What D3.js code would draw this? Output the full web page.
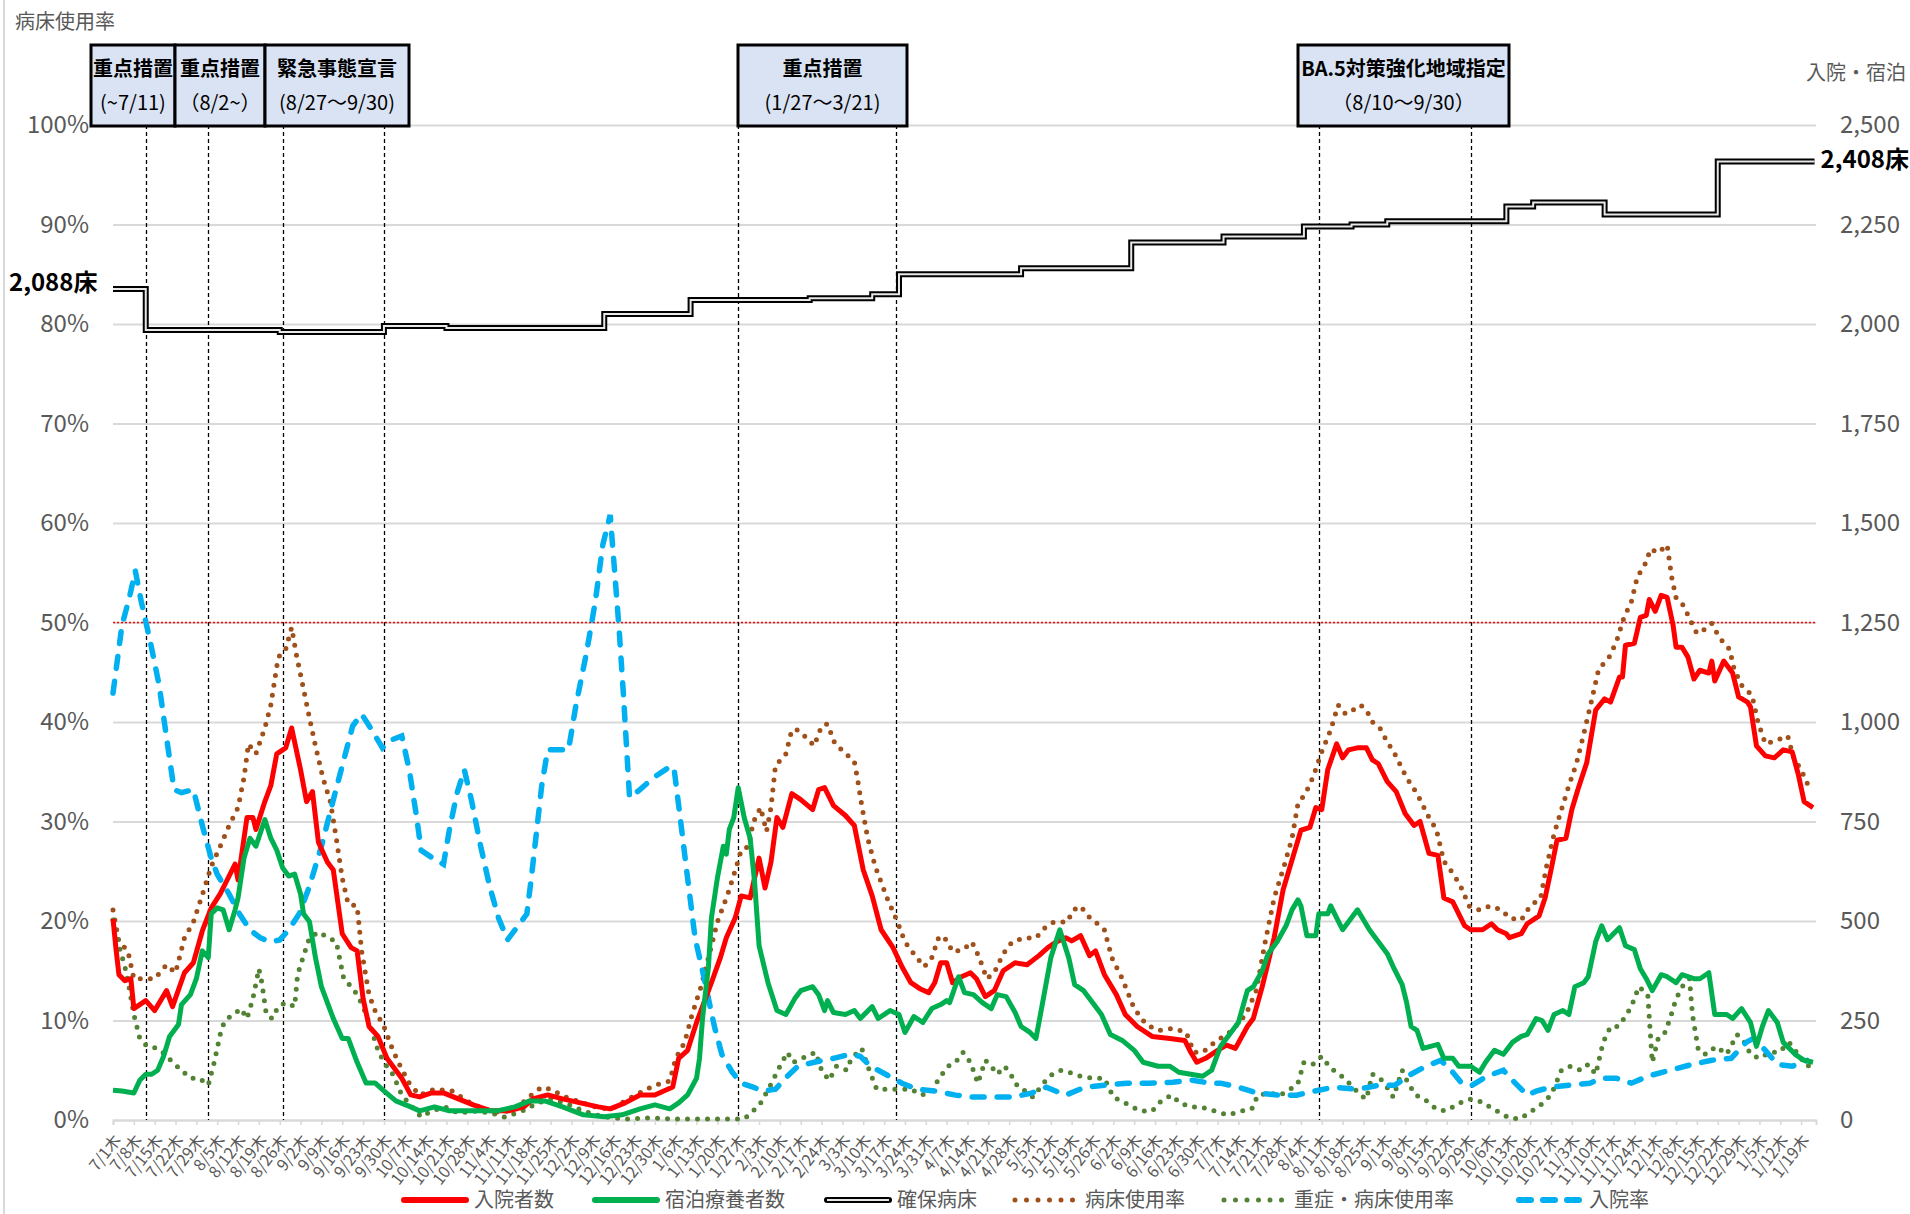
<!DOCTYPE html>
<html>
<head>
<meta charset="utf-8">
<script src="https://cdn.jsdelivr.net/npm/d3@7"></script>
<style>
body { margin: 0; background: #fff; }
svg { display: block; font-family: "Noto Sans CJK JP", "Noto Sans", sans-serif; }
</style>
</head>
<body>
<svg id="chart" width="1910" height="1214"></svg>
<script>
// day offsets are counted from 2021-07-01
var startDate = new Date(2021, 6, 1);

// 入院者数 (right axis, people)
var admitted = [[0,505],[1,430],[2,365],[4,350],[6,355],[7,280],[11,300],[14,275],[18,325],[20,285],[24,370],[27,395],[30,475],[33,533],[36,568],[38,598],[41,643],[42,603],[45,760],[47,760],[48,730],[51,800],[53,840],[55,920],[58,935],[60,985],[63,880],[65,800],[67,825],[69,698],[72,648],[74,628],[77,468],[80,433],[82,425],[84,305],[86,235],[89,210],[92,155],[95,125],[97,105],[100,63],[103,58],[107,68],[111,68],[116,53],[121,38],[127,23],[133,23],[138,33],[141,53],[146,63],[151,53],[157,43],[163,33],[167,28],[172,43],[177,63],[182,63],[188,83],[190,155],[193,175],[196,245],[199,305],[201,345],[204,408],[206,458],[209,508],[211,563],[214,558],[217,658],[219,583],[221,648],[223,760],[225,735],[228,820],[231,805],[235,780],[237,830],[239,835],[242,790],[246,765],[249,740],[252,628],[255,563],[258,478],[262,433],[265,385],[268,345],[271,330],[274,320],[276,345],[278,395],[280,395],[282,345],[285,360],[288,370],[290,355],[293,310],[296,325],[299,375],[303,395],[307,390],[311,413],[314,433],[317,448],[320,458],[322,450],[325,463],[328,413],[330,425],[333,365],[337,315],[340,265],[344,235],[349,210],[355,205],[360,200],[362,170],[364,145],[367,155],[371,175],[374,188],[377,180],[381,235],[383,255],[386,335],[390,458],[393,578],[397,678],[399,728],[402,735],[404,785],[406,780],[408,880],[411,945],[413,910],[415,930],[418,935],[421,935],[423,905],[425,895],[428,850],[431,825],[434,770],[437,740],[439,750],[442,670],[445,665],[447,558],[450,548],[454,488],[456,478],[460,478],[463,493],[465,478],[468,468],[469,458],[473,468],[475,493],[479,513],[481,558],[483,628],[485,703],[488,708],[490,780],[492,830],[495,898],[498,1030],[501,1058],[503,1050],[506,1113],[507,1113],[508,1193],[511,1198],[513,1263],[515,1268],[516,1308],[518,1278],[520,1318],[522,1313],[524,1243],[525,1188],[527,1188],[529,1163],[531,1108],[533,1130],[536,1123],[537,1153],[538,1103],[541,1153],[544,1123],[546,1063],[549,1050],[550,1038],[552,940],[555,915],[558,910],[561,930],[564,925],[566,870],[568,800],[571,785]];

// 宿泊療養者数 (right axis, people)
var hotelStay = [[0,75],[3,73],[7,68],[9,100],[11,115],[13,115],[15,125],[17,160],[19,210],[22,240],[23,290],[26,315],[28,355],[30,425],[32,408],[33,518],[35,533],[37,528],[39,478],[41,528],[42,558],[44,658],[46,708],[48,688],[51,755],[53,708],[55,678],[57,633],[59,613],[61,618],[63,568],[64,518],[66,498],[68,408],[70,335],[72,295],[74,255],[77,205],[79,205],[82,145],[85,93],[88,93],[91,73],[95,48],[100,33],[103,23],[108,33],[113,23],[121,23],[129,23],[135,33],[140,48],[145,48],[151,33],[158,13],[165,8],[171,13],[177,28],[182,38],[187,28],[190,43],[193,63],[196,105],[197,155],[198,255],[200,385],[201,508],[203,608],[205,688],[206,668],[207,730],[208.5,760],[210,835],[212,760],[214,708],[215.5,598],[217,438],[220,345],[223,275],[226,265],[229,305],[231,325],[235,335],[237,315],[239,275],[240,300],[242,270],[246,265],[249,275],[251,255],[255,285],[257,255],[261,275],[264,265],[266,220],[269,260],[272,245],[275,280],[278,290],[280,300],[281,295],[284,360],[286,320],[289,315],[292,295],[295,280],[297,315],[300,310],[303,270],[305,235],[308,220],[310,205],[312,285],[315,408],[318,478],[321,408],[323,340],[326,325],[329,295],[332,265],[335,215],[339,200],[343,175],[346,145],[351,135],[355,135],[358,120],[362,115],[366,110],[369,125],[372,185],[375,215],[378,245],[381,325],[383,335],[386,375],[388,418],[391,448],[394,488],[396,528],[398,553],[399,538],[401,463],[404,463],[405,518],[408,518],[409,538],[411,508],[413,478],[415,498],[418,528],[420,503],[422,478],[425,448],[428,418],[430,385],[433,340],[434.5,295],[436,235],[438,225],[440,180],[445,190],[447,155],[450,155],[452,135],[456,135],[459,120],[461,145],[464,175],[467,165],[470,195],[473,210],[475,215],[478,255],[480,250],[482,225],[484,265],[487,275],[489,265],[491,335],[494,345],[495.5,360],[498,448],[500,488],[502,453],[506,483],[508,438],[511,428],[513,380],[515,355],[517,325],[520,365],[522,360],[525,345],[527,365],[531,355],[533,355],[536,370],[538,265],[542,265],[544,255],[547,280],[550,245],[552,185],[554,235],[556,275],[559,245],[561,195],[565,165],[568,150],[571,145]];

// 確保病床 (right axis, beds) - value holds from this day on
var securedBeds = [[0,2088],[11,1985],[56,1980],[91,1995],[112,1990],[165,2025],[194,2060],[234,2065],[255,2075],[264,2125],[305,2140],[342,2205],[373,2220],[400,2245],[416,2250],[428,2258],[468,2295],[477,2305],[501,2275],[539,2408],[571.5,2408]];

// 病床使用率 (left axis, %)
var bedUsage = [[0,21.1],[2,17.9],[5,17],[7,14.2],[11,14.2],[14,14.2],[18,15.6],[21,14.8],[24,18.3],[27,19.9],[30.5,23.1],[33,25.5],[36,27.5],[39,29.6],[42,31.4],[44,34.4],[45.5,37.8],[48,36.8],[51,39.4],[53,41.7],[55.5,46.5],[58,47.3],[60,49.5],[61.5,46.9],[64,43.3],[66,40.4],[68,37.6],[70.5,34.4],[73,32],[75,28.3],[77,24.3],[79,21.7],[82,21.5],[83.5,17],[86,12.6],[88,11],[91,9.4],[94,7],[96.5,5.4],[99.5,3.7],[103,2.5],[108,3.1],[114,2.9],[119,1.9],[124.5,1.1],[130.5,0.7],[136,1.3],[140.5,2.5],[144,3.3],[147,3.1],[152,2.3],[158,1.7],[164,1.1],[168.5,1.3],[173,2.1],[178,2.9],[182,3.5],[187,3.9],[189,6.2],[192,7.8],[194.5,10.6],[197.5,13.4],[201,17.5],[203,19.9],[206.5,22.7],[209,25.1],[211,27.1],[213.5,27.5],[215,29.9],[217.5,31.4],[219.5,29],[221,31.4],[222.5,35.6],[226,36.8],[228,39.2],[230,39.2],[233,38.4],[235.5,37.6],[238,39.6],[240,39.8],[242.5,37.8],[245.5,37],[249,36],[250,34.4],[251.5,31.6],[253.5,28.3],[256,25.5],[260,22.3],[263.5,19.9],[266,17.9],[269.5,16.5],[272.5,15.4],[275,16.3],[277.5,18.5],[280,18.1],[282,16.9],[285.5,17.1],[288.5,17.9],[291,16.3],[293.5,14.2],[296,14.8],[299,16.7],[302,17.9],[306,18.3],[310,18.3],[313,19.3],[316,19.9],[320.5,19.9],[322.5,21.1],[325,21.5],[327.5,20.5],[330,19.9],[333,19.1],[335.5,16.3],[339,14.2],[343,11.2],[347,9.6],[351,9],[356,9.2],[360.5,8.8],[363,6.8],[366,6.8],[370,7.8],[375,8.8],[377,9.4],[380.5,10.6],[384,13],[387,17.9],[390,22.3],[393.5,25.7],[396,28.3],[398,31.8],[400.5,32.8],[403,34.4],[406,37],[409,39.2],[411.5,41.7],[414,40.8],[416.5,41.2],[419,41.7],[421,41.2],[423,40],[425.5,39.4],[428,38],[430.5,36.8],[434.5,34.4],[438,32.8],[442,30.4],[444.5,29.2],[447,26],[450,24.8],[452.5,23.6],[455.5,21.5],[459,21.1],[462.5,21.5],[466.5,21.1],[469,20.3],[473,20.1],[476,21.5],[479.5,22.3],[481.5,25.5],[484,28.7],[486.5,31.2],[489,33.6],[491.5,35.8],[494,38.8],[496.5,42],[499,45.3],[502.5,46.5],[505,48.1],[507.5,50.5],[510,52.1],[512,54.6],[514.5,55.8],[516.5,57.4],[519,57],[522,57.8],[523.5,54.6],[525,52.5],[527.5,51.7],[530,50.1],[532,48.9],[534.5,49.3],[537,49.9],[539.5,48.5],[543,47.3],[544.5,45.3],[547,43.7],[550.5,42.7],[552.5,40],[555,37.8],[559,38.2],[562.5,38.6],[564.5,36.4],[567,35.2],[570,33.2]];

// 重症・病床使用率 (left axis, %)
var severeUsage = [[0,20.1],[2,17.5],[4,15.4],[5.5,13.2],[7,10.6],[9,8.2],[11.5,7.4],[15,7.2],[17.5,6.6],[20,5.8],[23,5],[26,4.2],[29,4.2],[32,3.5],[34,5.8],[36,8.6],[37.5,10],[40.5,10.6],[43,11.2],[45,10.2],[47,12.2],[49,15.2],[50,13.8],[51.5,10.6],[53.5,10.2],[55.5,11.4],[58,11.8],[61,11.4],[62,14.6],[64,16.5],[66,18.3],[69,18.9],[72.5,18.3],[75,17.9],[77.5,14.2],[80,13.4],[82,12.6],[84,11.4],[86.5,9.4],[89,7],[91,5.8],[94,4.6],[97,2.5],[100.5,1.3],[103.5,0.3],[107,0.9],[111.5,1.3],[116,0.7],[122,0.9],[127,0.7],[131.5,0.3],[137.5,0.9],[142.5,1.7],[147,2.1],[152,1.7],[158,0.9],[165,0.3],[172,0.1],[179,0.2],[190,0.1],[200,0.1],[212,0.1],[215,0.9],[217.5,1.7],[220.5,3.3],[224,5.4],[226.5,6.8],[228.5,5.8],[231.5,6.2],[236,6.8],[238,5],[240.5,4],[243,5.4],[246.5,5],[248,6.2],[251.5,7.2],[253.5,5.4],[256.5,3.1],[264,3.1],[268,3.1],[271.5,2.5],[275,2.9],[277.5,4.2],[280.5,5.4],[283,5.8],[285.5,6.8],[288,5.8],[290.5,3.7],[293,6],[295,5.4],[297,4.6],[299.5,5.4],[301.5,4.6],[304,3.3],[306.5,2.9],[309,2.3],[312.5,3.7],[315.5,4.6],[318.5,5],[321,4.8],[325,4.4],[329,4.2],[333,4.2],[336,2.3],[340,1.7],[345,0.9],[349,0.9],[352,1.9],[355.5,2.5],[358.5,1.7],[362,1.3],[365.5,1.3],[370,0.9],[374.5,0.5],[379,0.9],[382.5,1.1],[384.5,2.5],[388.5,2.7],[392,2.5],[395.5,3.1],[398,3.7],[400,5.8],[403,5.6],[406,6.4],[409,5.2],[411,4.8],[413.5,4.2],[416.5,3.3],[419,2.5],[421,2.1],[423,4.6],[425.5,4.2],[427.5,3.5],[430,2.3],[433,5],[435,3.7],[437.5,2.5],[440.5,2.1],[444.5,1.1],[447.5,0.9],[450,1.3],[453.5,1.9],[456,2.1],[459,1.9],[462.5,1.3],[466,0.7],[469,0.2],[472.5,0.1],[475.5,0.7],[479.5,1.5],[483,2.5],[486.5,5],[489.5,5.4],[493,5],[495.5,5.6],[498,4.6],[500.5,7.8],[503,9.4],[505.5,9.4],[507.5,10.2],[510,11.4],[512.5,13.4],[515.5,12.6],[517,5.8],[519,8.2],[521,8.6],[523,10.2],[525,12.2],[527.5,13.6],[529.5,14.2],[530.5,10.6],[532.5,7],[535,6.6],[538.5,7.4],[542,6.6],[545.5,8.6],[548,7.8],[550,6.6],[553,6.2],[556.5,6.8],[559.5,6.8],[563,7.8],[565.5,6.8],[569,5.4],[571,5.6]];

// 入院率 (left axis, %)
var admitRate = [[0,42.9],[3,49.7],[5.5,52.5],[7.5,55.2],[9.5,52.1],[12.5,48.1],[15.5,43.7],[18,38.4],[20.5,33.2],[23,32.9],[27,33.2],[30,29.6],[33,26.3],[35,24.7],[39,22.7],[42.5,20.7],[46,19.1],[49.5,18.3],[53,17.9],[56,18.1],[59,19.1],[62.5,20.7],[66,23.5],[70,27.5],[73.5,31.6],[77,35.6],[80.5,39.6],[83.5,40.8],[86.5,39.4],[90.5,37.4],[93.5,38.2],[97,38.6],[99.5,35.2],[102,30.4],[103.5,27.1],[107.5,26.3],[111,25.7],[113,29.2],[115.5,32.8],[118,35.2],[120.5,32],[123.5,27.5],[126.5,23.5],[129.5,20.3],[132.5,18.1],[135,19.1],[139,20.7],[140.5,24.3],[142.5,29.6],[144,33.6],[146,37.2],[149.5,37.2],[153,37.2],[155.5,41.7],[159,46.9],[162,52.1],[164.5,57.8],[167,60.8],[168,57],[170,49.3],[171.5,42.5],[173.5,32.4],[177,33.2],[181.5,34.4],[187.5,35.6],[188.5,35.2],[190.5,30.4],[193,24.3],[195.5,18.3],[198,15],[200,12.2],[202,9.4],[204.5,6.6],[208,4.8],[211,3.7],[215,3.3],[218.5,2.9],[222.5,3.1],[226.5,4.4],[230,5.4],[235.5,5.8],[242,6.2],[247.5,6.6],[251,6.4],[254.5,5.4],[259.5,4.6],[265,3.7],[270,3.1],[276.5,2.9],[283,2.5],[289,2.3],[302,2.3],[308.5,2.7],[313.5,3.3],[320,2.5],[326.5,3.3],[333,3.5],[340.5,3.7],[348,3.7],[356,3.8],[362.5,4],[368.5,3.7],[372,3.7],[378,3.3],[384.5,2.7],[392,2.5],[397.5,2.5],[403.5,2.9],[410,3.3],[418,3.1],[425.5,3.5],[430.5,3.5],[436,4.6],[441,5.4],[446,6],[450,4.8],[453,3.7],[456.5,3.5],[461.5,4.4],[467,5],[471,3.7],[475,2.5],[478,2.9],[483,3.3],[489.5,3.5],[496,3.7],[500,4.2],[505,4.2],[510,3.7],[515.5,4.4],[523,5],[530.5,5.6],[537,6],[543.5,6.2],[548.5,7.8],[551,8.2],[555,7],[559,5.6],[564,5.4],[569,6]];

var leftTicks = d3.range(0, 101, 10);
var rightTicks = d3.range(0, 2501, 250);
var weekDays = d3.range(0, 568, 7);

// day offsets of the dashed period lines
var periodLines = [11, 32, 57, 91, 210, 263, 405, 456];
var boxes = [
    { label: "重点措置", period: "(~7/11)", x0: 91, x1: 175 },
    { label: "重点措置", period: "（8/2~）", x0: 175, x1: 265 },
    { label: "緊急事態宣言", period: "(8/27～9/30)", x0: 265, x1: 409 },
    { label: "重点措置", period: "(1/27～3/21)", x0: 738, x1: 907 },
    { label: "BA.5対策強化地域指定", period: "（8/10～9/30）", x0: 1298, x1: 1509 }
];

var svg = d3.select("#chart");
var margin = { left: 113, right: 1816, top: 125, bottom: 1120 };

function dayDate(d) {
    return new Date(startDate.getTime() + d * 86400000);
}

var x = d3.scaleTime()
    .domain([startDate, dayDate(572)])
    .range([margin.left, margin.right]);
var yL = d3.scaleLinear().domain([0, 100]).range([margin.bottom, margin.top]);
var yR = d3.scaleLinear().domain([0, 2500]).range([margin.bottom, margin.top]);

var grey = "#595959";

// left border of the chart frame
svg.append("line")
    .attr("x1", 4).attr("x2", 4).attr("y1", 0).attr("y2", 1214)
    .attr("stroke", "#d9d9d9").attr("stroke-width", 2);

// gridlines
svg.append("g")
    .attr("transform", "translate(" + margin.left + ",0)")
    .call(d3.axisLeft(yL).tickValues(leftTicks).tickSize(-(margin.right - margin.left)).tickFormat(""))
    .call(function (g) {
        g.select(".domain").remove();
        g.selectAll(".tick line").attr("stroke", "#d9d9d9").attr("stroke-width", 2);
    });

// left axis labels
svg.append("g")
    .attr("transform", "translate(" + margin.left + ",0)")
    .call(d3.axisLeft(yL).tickValues(leftTicks).tickSize(0).tickPadding(24)
        .tickFormat(function (d) { return d + "%"; }))
    .call(function (g) {
        g.select(".domain").remove();
        g.selectAll("text").attr("fill", grey).style("font-size", "24px")
            .style("font-family", "'Noto Sans CJK JP'");
    });

// right axis labels
svg.append("g")
    .attr("transform", "translate(" + margin.right + ",0)")
    .call(d3.axisRight(yR).tickValues(rightTicks).tickSize(0).tickPadding(24)
        .tickFormat(d3.format(",")))
    .call(function (g) {
        g.select(".domain").remove();
        g.selectAll("text").attr("fill", grey).style("font-size", "24px")
            .style("font-family", "'Noto Sans CJK JP'");
    });

// x axis
svg.append("g")
    .attr("transform", "translate(0," + margin.bottom + ")")
    .call(d3.axisBottom(x).tickValues(weekDays.map(dayDate)).tickSize(5)
        .tickFormat(function (d) { return (d.getMonth() + 1) + "/" + d.getDate() + "木"; }))
    .call(function (g) {
        g.select(".domain").attr("stroke", "#d9d9d9").attr("stroke-width", 2);
        g.selectAll(".tick line").attr("stroke", "#d9d9d9").attr("stroke-width", 1.5);
        g.selectAll("text")
            .attr("fill", grey)
            .style("font-size", "16px")
            .style("font-family", "'Noto Sans CJK JP'")
            .style("text-anchor", "end")
            .attr("y", 0).attr("dy", "0.35em")
            .attr("transform", "translate(4,17) rotate(-52)");
    });

// 50% reference line
svg.append("line")
    .attr("x1", margin.left).attr("x2", margin.right)
    .attr("y1", yL(50)).attr("y2", yL(50))
    .attr("stroke", "#ff0000").attr("stroke-width", 1.5)
    .attr("stroke-dasharray", "2,2");

// period lines
svg.append("g").selectAll("line")
    .data(periodLines)
    .enter()
    .append("line")
    .attr("x1", function (d) { return Math.round(x(dayDate(d))) + 0.5; })
    .attr("x2", function (d) { return Math.round(x(dayDate(d))) + 0.5; })
    .attr("y1", margin.top)
    .attr("y2", margin.bottom)
    .attr("stroke", "#000")
    .attr("stroke-width", 1.3)
    .attr("stroke-dasharray", "4,3");

function lineFor(scale) {
    return d3.line()
        .x(function (d) { return x(dayDate(d[0])); })
        .y(function (d) { return scale(d[1]); });
}

var plot = svg.append("g");

plot.append("path").datum(bedUsage)
    .attr("d", lineFor(yL))
    .attr("fill", "none").attr("stroke", "#a0501a").attr("stroke-width", 5)
    .attr("stroke-linecap", "round").attr("stroke-dasharray", "0,10");

plot.append("path").datum(severeUsage)
    .attr("d", lineFor(yL))
    .attr("fill", "none").attr("stroke", "#548235").attr("stroke-width", 5)
    .attr("stroke-linecap", "round").attr("stroke-dasharray", "0,10");

plot.append("path").datum(admitRate)
    .attr("d", lineFor(yL))
    .attr("fill", "none").attr("stroke", "#00b0f0").attr("stroke-width", 5.5)
    .attr("stroke-linecap", "round").attr("stroke-dasharray", "12,13");

plot.append("path").datum(admitted)
    .attr("d", lineFor(yR))
    .attr("fill", "none").attr("stroke", "#ff0000").attr("stroke-width", 5)
    .attr("stroke-linejoin", "round");

plot.append("path").datum(hotelStay)
    .attr("d", lineFor(yR))
    .attr("fill", "none").attr("stroke", "#00b050").attr("stroke-width", 5)
    .attr("stroke-linejoin", "round");

var stepLine = lineFor(yR).curve(d3.curveStepAfter);
plot.append("path").datum(securedBeds)
    .attr("d", stepLine)
    .attr("fill", "none").attr("stroke", "#000").attr("stroke-width", 6);
plot.append("path").datum(securedBeds)
    .attr("d", stepLine)
    .attr("fill", "none").attr("stroke", "#e8e8e8").attr("stroke-width", 2);

// bold bed-count labels
svg.append("text")
    .attr("x", 9).attr("y", yR(securedBeds[0][1]) - 6)
    .attr("dy", "0.35em")
    .style("font-size", "24px").style("font-weight", "bold").attr("fill", "#000")
    .text("2,088床");
svg.append("text")
    .attr("x", 1909).attr("y", yR(securedBeds[securedBeds.length - 1][1]) - 2)
    .attr("dy", "0.35em").attr("text-anchor", "end")
    .style("font-size", "24px").style("font-weight", "bold").attr("fill", "#000")
    .text("2,408床");

// axis titles
svg.append("text").attr("x", 15).attr("y", 22).attr("dy", "0.35em")
    .style("font-size", "20px").attr("fill", grey).text("病床使用率");
svg.append("text").attr("x", 1906).attr("y", 73).attr("dy", "0.35em")
    .attr("text-anchor", "end")
    .style("font-size", "20px").attr("fill", grey).text("入院・宿泊");

// period boxes
var box = svg.append("g").selectAll("g")
    .data(boxes)
    .enter()
    .append("g");
box.append("rect")
    .attr("x", function (d) { return d.x0; })
    .attr("y", 45)
    .attr("width", function (d) { return d.x1 - d.x0; })
    .attr("height", 81)
    .attr("fill", "#dae3f3")
    .attr("stroke", "#000")
    .attr("stroke-width", 3);
box.append("text")
    .attr("x", function (d) { return (d.x0 + d.x1) / 2; })
    .attr("y", 69).attr("dy", "0.35em").attr("text-anchor", "middle")
    .style("font-size", "20px").style("font-weight", "bold").attr("fill", "#000")
    .text(function (d) { return d.label; });
box.append("text")
    .attr("x", function (d) { return (d.x0 + d.x1) / 2; })
    .attr("y", 103).attr("dy", "0.35em").attr("text-anchor", "middle")
    .style("font-size", "20px").attr("fill", "#000")
    .text(function (d) { return d.period; });

// legend
var legendItems = [
    { name: "入院者数", type: "red", x: 402 },
    { name: "宿泊療養者数", type: "green", x: 593 },
    { name: "確保病床", type: "beds", x: 825 },
    { name: "病床使用率", type: "brown", x: 1013 },
    { name: "重症・病床使用率", type: "severe", x: 1222 },
    { name: "入院率", type: "blue", x: 1517 }
];
var legendY = 1200;
var legend = svg.append("g").selectAll("g")
    .data(legendItems)
    .enter()
    .append("g")
    .attr("transform", function (d) { return "translate(" + d.x + "," + legendY + ")"; });

legend.each(function (d) {
    var g = d3.select(this);
    function sample() {
        return g.append("line").attr("x1", 2).attr("x2", 64).attr("y1", 0).attr("y2", 0);
    }
    if (d.type === "red") {
        sample().attr("stroke", "#ff0000").attr("stroke-width", 6).attr("stroke-linecap", "round");
    } else if (d.type === "green") {
        sample().attr("stroke", "#00b050").attr("stroke-width", 6).attr("stroke-linecap", "round");
    } else if (d.type === "beds") {
        sample().attr("stroke", "#000").attr("stroke-width", 6).attr("stroke-linecap", "round");
        sample().attr("stroke", "#e8e8e8").attr("stroke-width", 2);
    } else if (d.type === "brown") {
        sample().attr("stroke", "#a0501a").attr("stroke-width", 5)
            .attr("stroke-linecap", "round").attr("stroke-dasharray", "0,11.5");
    } else if (d.type === "severe") {
        sample().attr("stroke", "#548235").attr("stroke-width", 5)
            .attr("stroke-linecap", "round").attr("stroke-dasharray", "0,11.5");
    } else {
        sample().attr("stroke", "#00b0f0").attr("stroke-width", 6)
            .attr("stroke-linecap", "round").attr("stroke-dasharray", "12,12");
    }
    g.append("text")
        .attr("x", 72).attr("y", 0).attr("dy", "0.35em")
        .style("font-size", "20px").attr("fill", grey)
        .text(d.name);
});
</script>
</body>
</html>
